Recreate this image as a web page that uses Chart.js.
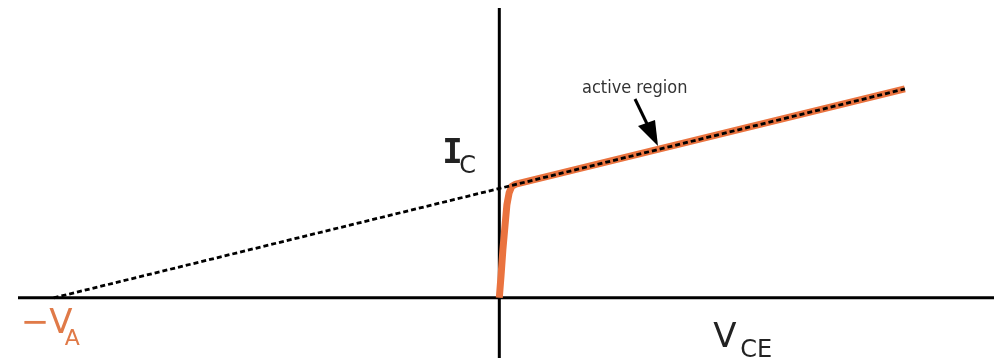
<!DOCTYPE html>
<html>
<head>
<meta charset="utf-8">
<title>Early effect</title>
<script src="https://cdn.jsdelivr.net/npm/chart.js@4/dist/chart.umd.min.js"></script>
<style>
  html, body { margin: 0; padding: 0; background: #fff; }
  #wrap { width: 994px; height: 360px; }
</style>
</head>
<body>
<div id="wrap"><canvas id="earlyChart" width="994" height="360"></canvas></div>
<script>
// collector current vs. collector-emitter voltage (arbitrary units)
const curveV = [0, 0.04, 0.08, 0.13, 0.17, 0.22, 0.28, 0.37, 9.1];
const curveI = [0, 0.21, 0.44, 0.67, 0.85, 0.96, 1.02, 1.04, 1.91];

// extrapolated active region back to the Early voltage
const earlyV = [-10, 9.1];
const earlyI = [0, 1.91];

// axis extents
const xRange = [-10.8, 11.1];
const yRange = [-0.55, 2.65];

const orange = '#ea733f';

function pts(xs, ys) {
  return xs.map((x, i) => ({ x: x, y: ys[i] }));
}

// labels and the arrow
const labelsPlugin = {
  id: 'labels',
  afterDatasetsDraw(chart) {
    const ctx = chart.ctx;
    const x = chart.scales.x, y = chart.scales.y;
    const ox = x.getPixelForValue(0);
    const oy = y.getPixelForValue(0);
    const ax = x.getPixelForValue(earlyV[0]);
    ctx.save();
    ctx.textBaseline = 'alphabetic';

    // I_C
    ctx.fillStyle = '#222';
    ctx.font = 'bold 34px "DejaVu Sans Mono"';
    ctx.textAlign = 'left';
    ctx.fillText('I', ox - 57, oy - 135);
    ctx.font = '24px "DejaVu Sans"';
    ctx.fillText('C', ox - 40, oy - 125);

    // V_CE
    ctx.font = '34px "DejaVu Sans"';
    ctx.fillText('V', ox + 214, oy + 49);
    ctx.font = '24px "DejaVu Sans"';
    ctx.fillText('CE', ox + 241, oy + 59);

    // -V_A
    ctx.fillStyle = '#e07a48';
    ctx.font = '34px "DejaVu Sans"';
    ctx.fillText('\u2212V', ax - 33, oy + 35);
    ctx.font = '22px "DejaVu Sans"';
    ctx.fillText('A', ax + 11, oy + 47);

    // active region
    ctx.fillStyle = '#333';
    ctx.font = '18px "DejaVu Sans Condensed"';
    ctx.fillText('active region', 582, 93);

    // arrow
    ctx.strokeStyle = '#000';
    ctx.fillStyle = '#000';
    ctx.lineWidth = 3;
    ctx.beginPath();
    ctx.moveTo(635, 99);
    ctx.lineTo(650, 130);
    ctx.stroke();
    ctx.beginPath();
    ctx.moveTo(658, 146);
    ctx.lineTo(638, 126);
    ctx.lineTo(655, 120);
    ctx.closePath();
    ctx.fill();
    ctx.restore();
  }
};

new Chart(document.getElementById('earlyChart'), {
  type: 'scatter',
  data: {
    datasets: [
      {
        data: pts(earlyV, earlyI),
        showLine: true,
        borderColor: '#000',
        borderWidth: 2.8,
        borderDash: [5, 3],
        pointRadius: 0,
        order: 0
      },
      {
        data: pts(curveV, curveI),
        showLine: true,
        borderColor: orange,
        borderWidth: 7,
        borderJoinStyle: 'round',
        tension: 0,
        pointRadius: 0,
        order: 1
      },
      {
        data: pts(xRange, [0, 0]),
        showLine: true,
        borderColor: '#000',
        borderWidth: 3,
        pointRadius: 0,
        order: 2
      },
      {
        data: pts([0, 0], yRange),
        showLine: true,
        borderColor: '#000',
        borderWidth: 3,
        pointRadius: 0,
        order: 2
      }
    ]
  },
  options: {
    responsive: false,
    animation: false,
    layout: { padding: { left: 18, top: 8, right: 0, bottom: 2 } },
    plugins: { legend: { display: false }, tooltip: { enabled: false } },
    scales: {
      x: { type: 'linear', min: xRange[0], max: xRange[1], display: false },
      y: { type: 'linear', min: yRange[0], max: yRange[1], display: false }
    }
  },
  plugins: [labelsPlugin]
});
</script>
</body>
</html>
